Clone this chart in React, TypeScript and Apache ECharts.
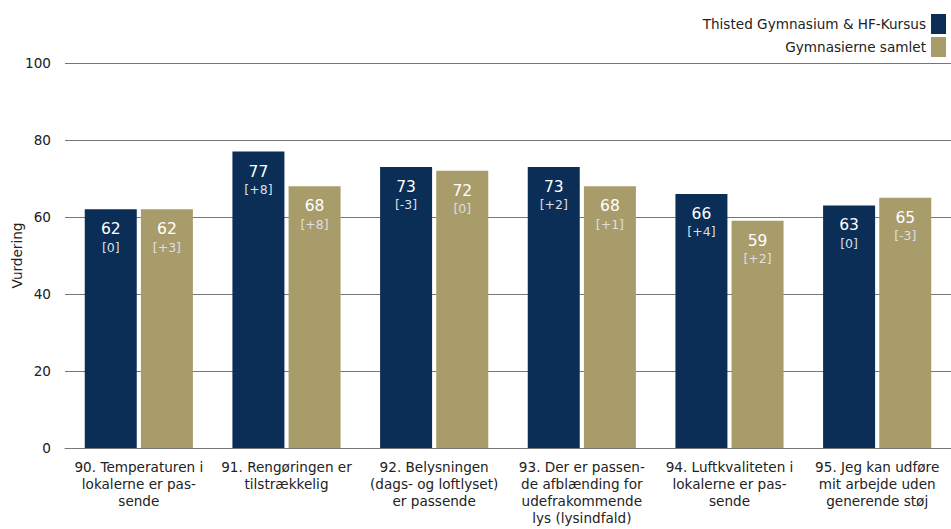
import React, { useEffect, useRef } from "react";
import * as echarts from "echarts";

const categories = [
  "90. Temperaturen i\nlokalerne er pas-\nsende",
  "91. Rengøringen er\ntilstrækkelig",
  "92. Belysningen\n(dags- og loftlyset)\ner passende",
  "93. Der er passen-\nde afblænding for\nudefrakommende\nlys (lysindfald)",
  "94. Luftkvaliteten i\nlokalerne er pas-\nsende",
  "95. Jeg kan udføre\nmit arbejde uden\ngenerende støj",
];
const schoolName = "Thisted Gymnasium & HF-Kursus";
const totalName = "Gymnasierne samlet";
const schoolValues = [62, 77, 73, 73, 66, 63];
const schoolDiffs = ["[0]", "[+8]", "[-3]", "[+2]", "[+4]", "[0]"];
const totalValues = [62, 68, 72, 68, 59, 65];
const totalDiffs = ["[+3]", "[+8]", "[0]", "[+1]", "[+2]", "[-3]"];
const yTicks = { min: 0, max: 100, interval: 20 };

const FONT = "DejaVu Sans";

export default function App() {
  const ref = useRef<HTMLDivElement>(null);
  useEffect(() => {
    const chart = echarts.init(ref.current!, null, { renderer: "svg" });
    const label = (diffs: string[]) => ({
      show: true,
      position: "insideTop",
      distance: 10,
      formatter: (p: any) => `{v|${p.value}}\n{d|${diffs[p.dataIndex]}}`,
      rich: {
        v: { color: "#ffffff", fontSize: 15.5, fontFamily: FONT, lineHeight: 20 },
        d: { color: "#dcdfe5", fontSize: 12.5, fontFamily: FONT, lineHeight: 16 },
      },
    });
    chart.setOption({
      animation: false,
      textStyle: { fontFamily: FONT },
      grid: { left: 65, right: 0, top: 63, bottom: 81, outerBoundsMode: "none", containLabel: false },
      legend: {
        orient: "vertical",
        right: 0,
        top: 9,
        align: "right",
        itemWidth: 15,
        itemHeight: 20,
        itemGap: 3,
        icon: "rect",
        textStyle: { fontSize: 13.6, color: "#222", fontFamily: FONT },
        data: [schoolName, totalName],
      },
      xAxis: {
        type: "category",
        data: categories,
        axisTick: { show: false },
        axisLine: { lineStyle: { color: "#777" } },
        axisLabel: {
          interval: 0,
          fontSize: 13.6,
          lineHeight: 17,
          color: "#222",
          fontFamily: FONT,
          margin: 10,
        },
      },
      yAxis: {
        type: "value",
        min: yTicks.min,
        max: yTicks.max,
        interval: yTicks.interval,
        name: "Vurdering",
        nameLocation: "middle",
        nameGap: 41,
        nameMoveOverlap: false,
        nameTextStyle: { fontSize: 13.6, color: "#222", fontFamily: FONT },
        axisLabel: { fontSize: 13.6, color: "#222", margin: 14, fontFamily: FONT },
        splitLine: { lineStyle: { color: "#777" } },
        axisLine: { show: false },
        axisTick: { show: false },
      },
      series: [
        {
          name: schoolName,
          type: "bar",
          data: schoolValues,
          barWidth: 52,
          barGap: "8%",
          itemStyle: { color: "#0b2e56" },
          label: label(schoolDiffs),
        },
        {
          name: totalName,
          type: "bar",
          data: totalValues,
          barWidth: 52,
          itemStyle: { color: "#a99c6b" },
          label: label(totalDiffs),
        },
      ],
    });
    return () => chart.dispose();
  }, []);
  return (
    <div
      ref={ref}
      style={{ position: "absolute", left: 0, top: 0, width: 951, height: 529 }}
    />
  );
}
